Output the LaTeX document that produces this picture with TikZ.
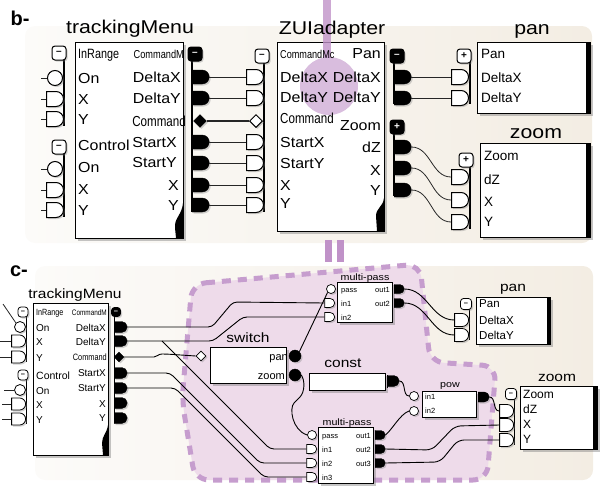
\documentclass[tikz,border=0pt]{standalone}
\usepackage{fontspec}
\setmainfont{Liberation Sans}
\newfontfamily\ttlf[FakeStretch=1.15]{Liberation Sans}
\newfontfamily\cnd[FakeStretch=0.8]{Liberation Sans}
\newfontfamily\wid[FakeStretch=1.1]{Liberation Sans}
\usetikzlibrary{shapes.misc,shapes.geometric,shadows}
\definecolor{bgL}{RGB}{252,251,249}
\definecolor{bgR}{RGB}{243,237,227}
\definecolor{lila}{RGB}{192,146,200}
\definecolor{lilafill}{RGB}{238,219,234}
\newcommand\fs[1]{\fontsize{#1}{#1}\selectfont}
\tikzset{
  shd/.style={drop shadow={shadow xshift=2.5pt,shadow yshift=-3pt,opacity=0.45}},
  pshd/.style={drop shadow={shadow xshift=1.5pt,shadow yshift=-1.5pt,opacity=0.35}},
  box/.style={draw=black,line width=0.9pt,fill=white,anchor=north west,inner sep=0,shd},
  ttlB/.style={font=\ttlf\fs{18.5},inner sep=0,anchor=base},
  ttlC/.style={font=\ttlf\fs{13.5},inner sep=0,anchor=base},
  ttlS/.style={font=\ttlf\fs{9.3},inner sep=0,anchor=base},
  lL/.style={anchor=base west,inner sep=0},
  lR/.style={anchor=base east,inner sep=0},
  fB/.style={font=\wid\fs{14.5}},
  wire/.style={line width=0.8pt,black!85},
  cwire/.style={line width=0.9pt,black,rounded corners=4pt},
  rail/.style={line width=1.3pt,black},
  oD/.style={rounded rectangle,rounded rectangle left arc=none,draw=black,fill=black,inner sep=0,minimum height=14pt,minimum width=17pt,anchor=west,pshd},
  iD/.style={rounded rectangle,rounded rectangle left arc=none,draw=black,line width=1pt,fill=white,inner sep=0,minimum height=15pt,minimum width=17pt,anchor=east,pshd},
  soD/.style={oD,minimum height=11pt,minimum width=13pt},
  ssoD/.style={oD,minimum height=9pt,minimum width=10pt},
  siD/.style={iD,minimum height=12pt,minimum width=14pt,line width=0.8pt},
  ssiD/.style={iD,minimum height=9pt,minimum width=10pt,line width=0.7pt},
  ic/.style={circle,draw=black,fill=white,line width=1pt,inner sep=0,minimum size=15pt,pshd},
  sic/.style={ic,minimum size=11pt,line width=0.8pt},
  ssic/.style={ic,minimum size=9pt,line width=0.7pt},
  oc/.style={circle,draw=black,fill=black,inner sep=0,minimum size=12pt,pshd},
  diaB/.style={diamond,draw=black,fill=black,inner sep=0,minimum size=13pt,pshd},
  diaW/.style={diamond,draw=black,fill=white,line width=1pt,inner sep=0,minimum size=13pt,pshd},
  btnW/.style={rectangle,rounded corners=3pt,draw=black,fill=white,line width=1pt,inner sep=0,minimum size=14pt,font=\bfseries\fs{10},pshd},
  btnB/.style={btnW,fill=black,text=white},
  sbtnW/.style={btnW,minimum size=10pt,font=\bfseries\fs{7.5},line width=0.8pt},
  sbtnB/.style={sbtnW,fill=black,text=white},
}
\begin{document}
\begin{tikzpicture}[x=1pt,y=-1pt]
\useasboundingbox (0,0) rectangle (600,485);
\begin{scope}
\clip (0,0) rectangle (600,485);
% ---------- backgrounds
\path[left color=bgL,right color=bgR,rounded corners=10pt] (25,26) rectangle (592,243);
\path[left color=bgL,right color=bgR,rounded corners=10pt] (35,266) rectangle (593,480);
\path[fill=lilafill,rounded corners=14pt] (192,284) -- (420,264) -- (430,362) -- (496,366) -- (487,480) -- (195,480) -- (182,400) -- cycle;
\draw[lila!90,line width=5pt,dash pattern=on 9pt off 7pt,rounded corners=14pt] (192,284) -- (420,264) -- (430,362) -- (496,366) -- (487,480) -- (195,480) -- (182,400) -- cycle;
\fill[lila] (325,240) rectangle (332,262);
\fill[lila] (337,240) rectangle (344,262);

\node[font=\bfseries\fs{20},inner sep=0] (labb) at (20,18) {b-};
\node[font=\bfseries\fs{20},inner sep=0] (labc) at (19,271) {c-};

% ---------- panel b boxes
\node[box,minimum width=108pt,minimum height=196pt] (tmB) at (75,42) {};
\node[box,minimum width=107pt,minimum height=189pt] (zaB) at (277,42) {};
\node[box,minimum width=113pt,minimum height=71pt] (panB) at (477,42) {};
\node[box,minimum width=110pt,minimum height=94pt] (zmB) at (480,143) {};
\fill ([xshift=-5pt]panB.north east) rectangle (panB.south east);
\fill ([xshift=-5pt]zmB.north east) rectangle (zmB.south east);
\fill (183,203) .. controls (182,215) and (174,218) .. (175,228) -- (176,238) -- (183,238) -- cycle;
\fill (384,198) .. controls (383,207) and (376,208) .. (376,216) -- (377,231) -- (384,231) -- cycle;

% purple marks over ZUIadapter
\fill[lila,opacity=0.8] (323,0) rectangle (331,58);
\fill[lila,opacity=0.6] (329,86) circle[radius=29pt];

% titles b
\node[ttlB] (tmT) at (130,33) {trackingMenu};
\node[ttlB] (zaT) at (332,34) {ZUIadapter};
\node[ttlB] (panT) at (532,34) {pan};
\node[ttlB] (zmT) at (536,138) {zoom};

% labels tm b
\node[lL,font=\cnd\fs{13.5}] (tbl1) at (78,58) {InRange};
\node[lL,fB] (tbl2) at (78,83) {On};
\node[lL,fB] (tbl3) at (78,104) {X};
\node[lL,fB] (tbl4) at (78,124) {Y};
\node[lL,fB] (tbl5) at (78,150) {Control};
\node[lL,fB] (tbl6) at (78,172) {On};
\node[lL,fB] (tbl7) at (78,194) {X};
\node[lL,fB] (tbl8) at (78,215) {Y};
\node[lR,font=\cnd\fs{11.5}] (tbr1) at (184,58) {CommandM};
\node[lR,fB] (tbr2) at (181,82) {DeltaX};
\node[lR,fB] (tbr3) at (181,103) {DeltaY};
\node[lR,font=\cnd\fs{14.5}] (tbr4) at (186,126) {Command};
\node[lR,fB] (tbr5) at (177,147) {StartX};
\node[lR,fB] (tbr6) at (177,167) {StartY};
\node[lR,fB] (tbr7) at (179,190) {X};
\node[lR,fB] (tbr8) at (179,210) {Y};
% labels ZUIadapter
\node[lL,font=\cnd\fs{11.4}] (zal1) at (280,58) {CommandMc};
\node[lL,fB] (zal2) at (280,82) {DeltaX};
\node[lL,fB] (zal3) at (280,102) {DeltaY};
\node[lL,font=\cnd\fs{14.5}] (zal4) at (280,123) {Command};
\node[lL,fB] (zal5) at (280,147) {StartX};
\node[lL,fB] (zal6) at (280,168) {StartY};
\node[lL,fB] (zal7) at (280,190) {X};
\node[lL,fB] (zal8) at (280,208) {Y};
\node[lR,fB] (zar1) at (381,58) {Pan};
\node[lR,fB] (zar2) at (381,82) {DeltaX};
\node[lR,fB] (zar3) at (381,102) {DeltaY};
\node[lR,fB] (zar4) at (381,130) {Zoom};
\node[lR,fB] (zar5) at (381,152) {dZ};
\node[lR,fB] (zar6) at (381,175) {X};
\node[lR,fB] (zar7) at (381,195) {Y};
% labels pan/zoom b
\node[lL,font=\fs{13.5}] (pbl1) at (481,58) {Pan};
\node[lL,font=\fs{13.5}] (pbl2) at (481,82) {DeltaX};
\node[lL,font=\fs{13.5}] (pbl3) at (481,102) {DeltaY};
\node[lL,font=\fs{13.5}] (zbl1) at (484,160) {Zoom};
\node[lL,font=\fs{13.5}] (zbl2) at (484,184) {dZ};
\node[lL,font=\fs{13.5}] (zbl3) at (484,206) {X};
\node[lL,font=\fs{13.5}] (zbl4) at (484,226) {Y};

% ---------- panel c boxes
\node[box,minimum width=75pt,minimum height=152pt] (tmC) at (33,303) {};
\node[box,minimum width=76pt,minimum height=36pt] (swC) at (210,347) {};
\node[box,minimum width=55pt,minimum height=40pt] (mp1C) at (337,282) {};
\node[box,minimum width=76pt,minimum height=17pt] (csC) at (309,373) {};
\node[box,minimum width=55pt,minimum height=56pt] (mp2C) at (318,427) {};
\node[box,minimum width=54pt,minimum height=26pt] (powC) at (422,391) {};
\node[box,minimum width=74pt,minimum height=47pt] (panC) at (476,297) {};
\node[box,minimum width=77pt,minimum height=63pt] (zmC) at (520,386) {};
\fill ([xshift=-4pt]panC.north east) rectangle (panC.south east);
\fill ([xshift=-5pt]zmC.north east) rectangle (zmC.south east);
\fill (108,425) .. controls (107,433) and (102,436) .. (102,443) -- (103,455) -- (108,455) -- cycle;

% titles c
\node[ttlC] (tmcT) at (75,298) {trackingMenu};
\node[ttlC] (swT) at (248,342) {switch};
\node[ttlC] (csT) at (343,367) {const};
\node[ttlS] (mp1T) at (365,280) {multi-pass};
\node[ttlS] (mp2T) at (347,425) {multi-pass};
\node[ttlS] (powT) at (450,387) {pow};
\node[ttlC] (pcT) at (513,291) {pan};
\node[ttlC] (zcT) at (557,381) {zoom};

% labels tm c
\node[lL,font=\cnd\fs{9}] (tcl1) at (36,315) {InRange};
\node[lL,font=\fs{10}] (tcl2) at (36,331) {On};
\node[lL,font=\fs{10}] (tcl3) at (36,345) {X};
\node[lL,font=\fs{10}] (tcl4) at (36,361) {Y};
\node[lL,font=\fs{10.5}] (tcl5) at (36,379) {Control};
\node[lL,font=\fs{10}] (tcl6) at (36,394) {On};
\node[lL,font=\fs{10}] (tcl7) at (36,408) {X};
\node[lL,font=\fs{10}] (tcl8) at (36,423) {Y};
\node[lR,font=\cnd\fs{8}] (tcr1) at (107,315) {CommandM};
\node[lR,font=\fs{10}] (tcr2) at (106,331) {DeltaX};
\node[lR,font=\fs{10}] (tcr3) at (106,345) {DeltaY};
\node[lR,font=\cnd\fs{9.2}] (tcr4) at (107,360) {Command};
\node[lR,font=\fs{10}] (tcr5) at (106,376) {StartX};
\node[lR,font=\fs{10}] (tcr6) at (106,391) {StartY};
\node[lR,font=\fs{10}] (tcr7) at (106,407) {X};
\node[lR,font=\fs{10}] (tcr8) at (106,421) {Y};
% switch
\node[lR,font=\fs{11}] (swl1) at (288,360) {pan};
\node[lR,font=\fs{11}] (swl2) at (285,379) {zoom};
% multi-pass 1
\node[lL,font=\fs{7.5}] (m1l1) at (341,292) {pass};
\node[lL,font=\fs{7.5}] (m1l2) at (341,306) {in1};
\node[lL,font=\fs{7.5}] (m1l3) at (341,320) {in2};
\node[lR,font=\fs{7.5}] (m1r1) at (390,292) {out1};
\node[lR,font=\fs{7.5}] (m1r2) at (390,306) {out2};
% multi-pass 2
\node[lL,font=\fs{7.5}] (m2l1) at (322,438) {pass};
\node[lL,font=\fs{7.5}] (m2l2) at (322,452) {in1};
\node[lL,font=\fs{7.5}] (m2l3) at (322,466) {in2};
\node[lL,font=\fs{7.5}] (m2l4) at (322,480) {in3};
\node[lR,font=\fs{7.5}] (m2r1) at (371,438) {out1};
\node[lR,font=\fs{7.5}] (m2r2) at (371,452) {out2};
\node[lR,font=\fs{7.5}] (m2r3) at (371,466) {out3};
% pow
\node[lL,font=\fs{7.5}] (pwl1) at (425,399) {in1};
\node[lL,font=\fs{7.5}] (pwl2) at (425,413) {in2};
% pan c / zoom c
\node[lL,font=\fs{11.5}] (pcl1) at (479,307) {Pan};
\node[lL,font=\fs{11.5}] (pcl2) at (479,324) {DeltaX};
\node[lL,font=\fs{11.5}] (pcl3) at (479,339) {DeltaY};
\node[lL,font=\fs{12}] (zcl1) at (523,398) {Zoom};
\node[lL,font=\fs{12}] (zcl2) at (523,413) {dZ};
\node[lL,font=\fs{12}] (zcl3) at (523,428) {X};
\node[lL,font=\fs{12}] (zcl4) at (523,443) {Y};

% ---------- rails
\draw[rail] (64,47) -- (64,126);
\draw[rail] (64,141) -- (64,217);
\draw[rail] (192,48) -- (192,212);
\draw[rail] (264,50) -- (264,212);
\draw[rail] (394,50) -- (394,104);
\draw[rail] (394,121) -- (394,196);
\draw[rail] (470,50) -- (470,104);
\draw[rail] (470,153) -- (470,229);
\draw[rail,line width=1pt] (26,307) -- (26,362);
\draw[rail,line width=1pt] (26,370) -- (26,424);
\draw[rail,line width=1pt] (114,307) -- (114,423);
\draw[rail,line width=1pt] (387,375) -- (387,388);
\draw[rail,line width=1pt] (469,299) -- (469,340);
\draw[rail,line width=1pt] (514,389) -- (514,445);

% ---------- ports panel b
\node[btnW] (tmiA) at (59,53) {–};
\node[ic] (tmi1) at (55,78) {};
\node[iD] (tmi2) at (64,99) {};
\node[iD] (tmi3) at (64,119) {};
\node[btnW] (tmiB) at (59,147) {–};
\node[ic] (tmi4) at (55,169) {};
\node[iD] (tmi5) at (64,190) {};
\node[iD] (tmi6) at (64,210) {};
\coordinate (s1) at (41,78);
\coordinate (s2) at (41,99);
\coordinate (s3) at (41,119);
\coordinate (s4) at (41,169);
\coordinate (s5) at (41,190);
\coordinate (s6) at (41,210);
\draw[wire] (s1) -- (tmi1.west);
\draw[wire] (s2) -- (tmi2.west);
\draw[wire] (s3) -- (tmi3.west);
\draw[wire] (s4) -- (tmi4.west);
\draw[wire] (s5) -- (tmi5.west);
\draw[wire] (s6) -- (tmi6.west);

\node[btnB] (tmoA) at (195,54) {–};
\node[oD] (tmo1) at (192,77) {};
\node[oD] (tmo2) at (192,98) {};
\node[diaB] (tmo3) at (200,121) {};
\node[oD] (tmo4) at (192,142) {};
\node[oD] (tmo5) at (192,163) {};
\node[oD] (tmo6) at (192,185) {};
\node[oD] (tmo7) at (192,205) {};

\node[btnW] (zaiA) at (262,56) {–};
\node[iD] (zai1) at (264,77) {};
\node[iD] (zai2) at (264,98) {};
\node[diaW] (zai3) at (256,121) {};
\node[iD] (zai4) at (264,142) {};
\node[iD] (zai5) at (264,163) {};
\node[iD] (zai6) at (264,185) {};
\node[iD] (zai7) at (264,205) {};

\node[btnB] (zaoA) at (397,56) {–};
\node[oD] (zao1) at (394,77) {};
\node[oD] (zao2) at (394,98) {};
\node[btnB] (zaoB) at (397,127) {+};
\node[oD] (zao3) at (394,147) {};
\node[oD] (zao4) at (394,168) {};
\node[oD] (zao5) at (394,190) {};

\node[btnW] (paniA) at (464,56) {+};
\node[iD] (pani1) at (469,77) {};
\node[iD] (pani2) at (469,98) {};
\node[btnW] (zmiA) at (466,160) {+};
\node[iD] (zmi1) at (469,177) {};
\node[iD] (zmi2) at (469,200) {};
\node[iD] (zmi3) at (469,222) {};

% wires panel b
\draw[wire] (tmo1.east) -- (zai1.west);
\draw[wire] (tmo2.east) -- (zai2.west);
\draw[wire,line width=1.1pt] (tmo3.east) -- (zai3.west);
\draw[wire] (tmo4.east) -- (zai4.west);
\draw[wire] (tmo5.east) -- (zai5.west);
\draw[wire] (tmo6.east) -- (zai6.west);
\draw[wire] (tmo7.east) -- (zai7.west);
\draw[wire] (zao1.east) -- (pani1.west);
\draw[wire] (zao2.east) -- (pani2.west);
\draw[wire] (zao3.east) to[out=0,in=180] (zmi1.west);
\draw[wire] (zao4.east) to[out=0,in=180] (zmi2.west);
\draw[wire] (zao5.east) to[out=0,in=180] (zmi3.west);

% ---------- ports panel c
\node[sbtnW] (tciA) at (23,312) {–};
\node[sic] (tci1) at (20,327) {};
\node[siD] (tci2) at (26,341) {};
\node[siD] (tci3) at (26,357) {};
\node[sbtnW] (tciB) at (23,375) {–};
\node[sic] (tci4) at (20,390) {};
\node[siD] (tci5) at (26,404) {};
\node[siD] (tci6) at (26,419) {};
\coordinate (t1) at (3,304);
\coordinate (t2) at (0,341);
\coordinate (t3) at (0,357);
\coordinate (t4) at (4,390);
\coordinate (t5) at (2,404);
\coordinate (t6) at (2,419);
\draw[wire] (t1) -- (tci1.north west);
\draw[wire] (t2) -- (tci2.west);
\draw[wire] (t3) -- (tci3.west);
\draw[wire] (t4) -- (tci4.west);
\draw[wire] (t5) -- (tci5.west);
\draw[wire] (t6) -- (tci6.west);

\node[sbtnB,minimum size=9pt] (tcoA) at (116,312) {–};
\node[soD] (tco1) at (114,327) {};
\node[soD] (tco2) at (114,341) {};
\node[diaB,minimum size=10pt] (tco3) at (119,357) {};
\node[soD] (tco4) at (114,373) {};
\node[soD] (tco5) at (114,388) {};
\node[soD] (tco6) at (114,403) {};
\node[soD] (tco7) at (114,418) {};

\node[diaW,minimum size=10pt,line width=0.8pt] (swi) at (201,356) {};
\node[oc] (swo1) at (295,356) {};
\node[oc] (swo2) at (295,375) {};

\node[ssic] (mp1i1) at (331,289) {};
\node[ssiD] (mp1i2) at (335,303) {};
\node[ssiD] (mp1i3) at (335,317) {};
\node[ssoD] (mp1o1) at (394,289) {};
\node[ssoD] (mp1o2) at (394,303) {};

\node[soD,minimum width=12pt] (cso) at (387,381) {};

\node[ssic] (mp2i1) at (312,435) {};
\node[ssiD] (mp2i2) at (317,449) {};
\node[ssiD] (mp2i3) at (317,463) {};
\node[ssiD] (mp2i4) at (317,477) {};
\node[ssoD] (mp2o1) at (375,435) {};
\node[ssoD] (mp2o2) at (375,449) {};
\node[ssoD] (mp2o3) at (375,463) {};

\node[ssic] (powi1) at (414,396) {};
\node[ssic] (powi2) at (414,411) {};
\node[ssoD,minimum width=11pt,minimum height=10pt] (powo) at (478,397) {};

\node[sbtnW,minimum size=11pt] (pciA) at (466,304) {–};
\node[siD,minimum height=13pt] (pci1) at (469,320) {};
\node[siD,minimum height=13pt] (pci2) at (469,335) {};
\node[sbtnW,minimum size=11pt] (zciA) at (511,394) {–};
\node[siD,minimum height=13pt] (zci1) at (514,411) {};
\node[siD,minimum height=13pt] (zci2) at (514,425) {};
\node[siD,minimum height=13pt] (zci3) at (514,440) {};

% wires panel c
\coordinate (brDY) at (162,341);
\draw[cwire] (tco1.east) -- (212,327) -- (233,302) -- (mp1i2.west);
\draw[cwire] (tco2.east) -- (213,341) -- (243,317) -- (mp1i3.west);
\draw[cwire] (brDY) -- (270,449) -- (mp2i2.west);
\draw[cwire] (tco4.east) -- (170,373) -- (260,463) -- (mp2i3.west);
\draw[cwire] (tco5.east) -- (175,388) -- (264,477) -- (mp2i4.west);
\draw[cwire] (tco3.east) -- (150,357) .. controls (157,357) and (158,354) .. (166,354) -- (swi.west);
\draw[cwire] (swo1.north east) -- (mp1i1.south west);
\draw[cwire] (swo2.east) .. controls (305,380) and (305,392) .. (297,400) .. controls (289,408) and (292,430) .. (mp2i1.west);
\draw[cwire] (mp1o1.east) to[out=0,in=180] (pci1.west);
\draw[cwire] (mp1o2.east) to[out=0,in=180] (pci2.west);
\draw[cwire] (cso.east) to[out=0,in=180] (powi1.west);
\draw[cwire] (mp2o1.east) .. controls (392,430) and (400,414) .. (powi2.west);
\draw[cwire] (powo.east) to[out=0,in=180] (zci1.west);
\draw[cwire,rounded corners=6pt] (mp2o2.east) -- (432,450) -- (455,426) -- (zci2.west);
\draw[cwire,rounded corners=6pt] (mp2o3.east) -- (440,462) -- (458,440) -- (zci3.west);
\end{scope}
\end{tikzpicture}
\end{document}
